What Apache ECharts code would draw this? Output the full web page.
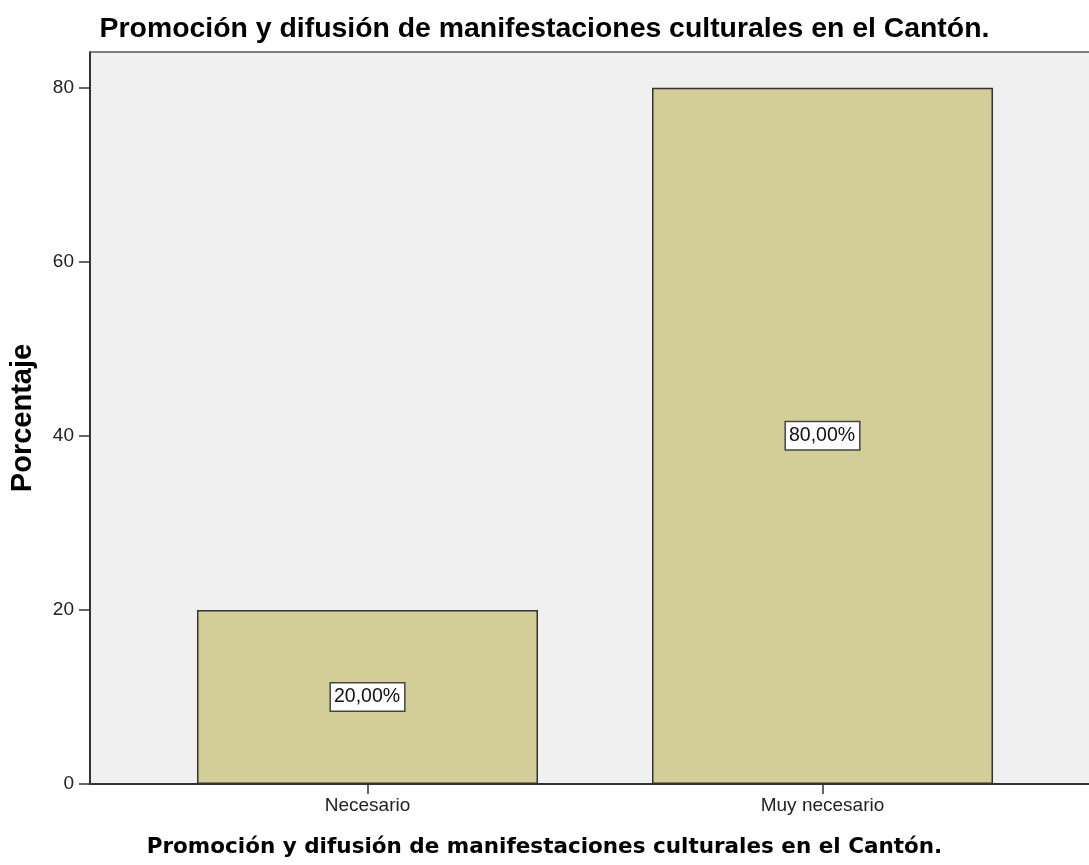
<!DOCTYPE html>
<html>
<head>
<meta charset="utf-8">
<script src="https://cdn.jsdelivr.net/npm/echarts@6/dist/echarts.min.js"></script>
<style>
  html, body { margin: 0; padding: 0; background: #fff; }
  #chart { width: 1089px; height: 865px; }
</style>
</head>
<body>
<div id="chart"></div>
<script>
// datos
var categorias = ["Necesario", "Muy necesario"];
var porcentajes = [20, 80];
var yTicks = [0, 20, 40, 60, 80];
var titulo = "Promoción y difusión de manifestaciones culturales en el Cantón.";

var posiciones = categorias.map(function (c, i) { return i; });
var datos = porcentajes.map(function (v, i) { return [posiciones[i], v]; });

var chart = echarts.init(document.getElementById("chart"));
chart.setOption({
  animation: false,
  backgroundColor: "#ffffff",
  title: [
    {
      text: titulo,
      left: "center",
      top: 15,
      padding: 0,
      textStyle: {
        fontFamily: "Liberation Sans",
        fontWeight: "bold",
        fontSize: 28.4,
        color: "#000"
      }
    },
    {
      // nombre del eje X, centrado en la imagen
      text: titulo,
      left: "center",
      top: 836,
      padding: 0,
      textStyle: {
        fontFamily: "DejaVu Sans",
        fontWeight: "bold",
        fontSize: 21.5,
        color: "#000"
      }
    }
  ],
  grid: {
    left: 90,
    top: 52,
    bottom: 81,
    right: 0,
    outerBoundsMode: "none",
    containLabel: false,
    show: true,
    backgroundColor: "#f0f0f0",
    borderWidth: 0
  },
  xAxis: [
    {
      type: "value",
      min: -0.6099,
      max: 1.5857,
      splitLine: { show: false },
      axisLine: { show: true, onZero: false, lineStyle: { color: "#333", width: 2 } },
      axisTick: { show: true, customValues: posiciones, length: 10, lineStyle: { color: "#333", width: 1.5 } },
      axisLabel: {
        customValues: posiciones,
        margin: 12,
        fontFamily: "Liberation Sans",
        fontSize: 19,
        color: "#222",
        formatter: function (v) { return categorias[Math.round(v)]; }
      }
    },
    {
      // borde superior del área de trazado
      type: "value",
      position: "top",
      min: -0.6099,
      max: 1.5857,
      splitLine: { show: false },
      axisLine: { show: true, onZero: false, lineStyle: { color: "#555", width: 1.5 } },
      axisTick: { show: false },
      axisLabel: { show: false }
    }
  ],
  yAxis: {
    type: "value",
    min: 0,
    max: 84.1,
    interval: 20,
    splitLine: { show: false },
    axisLine: { show: true, onZero: false, lineStyle: { color: "#333", width: 2 } },
    axisTick: { show: true, customValues: yTicks, length: 11, lineStyle: { color: "#333", width: 1.5 } },
    axisLabel: {
      margin: 16,
      fontFamily: "Liberation Sans",
      fontSize: 19,
      color: "#222",
      customValues: yTicks
    },
    name: "Porcentaje",
    nameLocation: "middle",
    nameGap: 53,
    nameTextStyle: {
      fontFamily: "Liberation Sans",
      fontWeight: "bold",
      fontSize: 29,
      color: "#000"
    }
  },
  series: [
    {
      type: "bar",
      data: datos,
      barWidth: 341,
      itemStyle: {
        color: "#d3ce97",
        borderColor: "#333",
        borderWidth: 1.5
      },
      label: {
        show: true,
        position: "inside",
        fontFamily: "Liberation Sans",
        fontSize: 19.5,
        color: "#111",
        backgroundColor: "#fff",
        borderColor: "#444",
        borderWidth: 1.5,
        padding: [4, 4, 3, 3],
        formatter: function (p) {
          return p.value[1].toFixed(2).replace(".", ",") + "%";
        }
      }
    }
  ]
});

window.addEventListener("resize", function () {
  chart.resize();
});
</script>
</body>
</html>
